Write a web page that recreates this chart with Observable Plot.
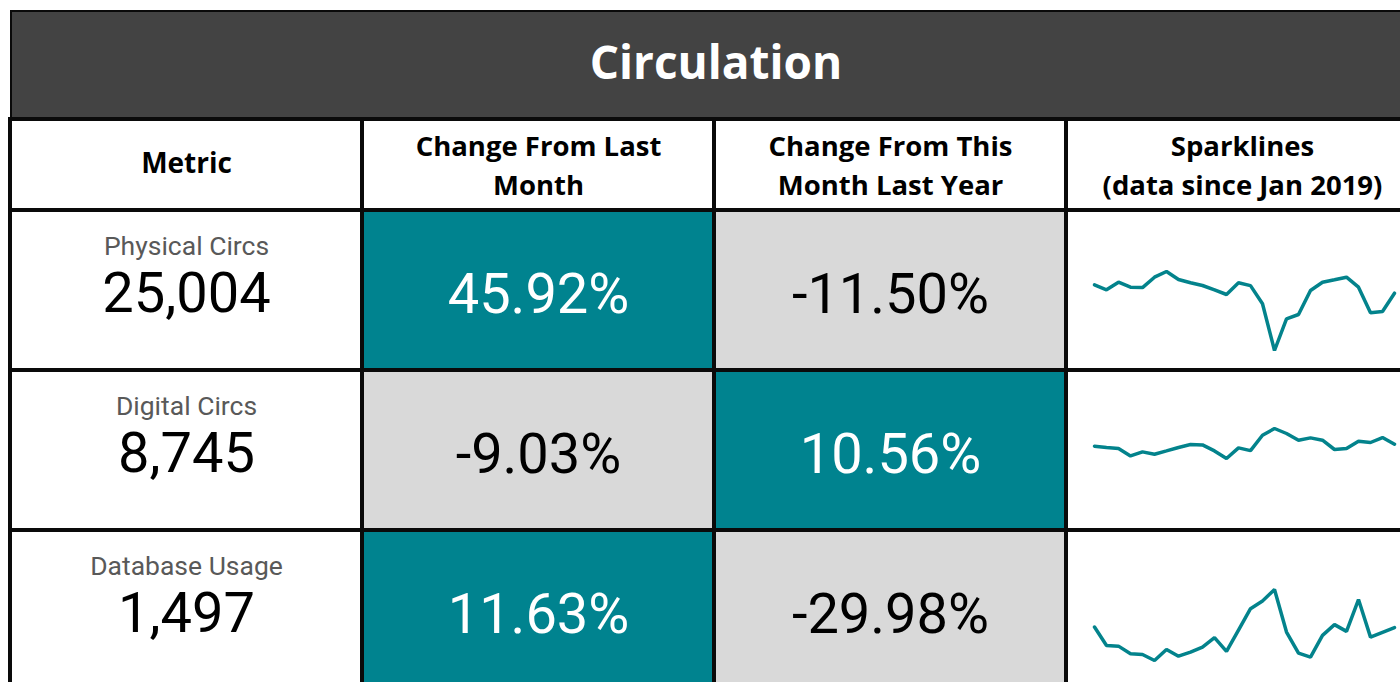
<!DOCTYPE html>
<html>
<head>
<meta charset="utf-8">
<script src="https://cdn.jsdelivr.net/npm/d3@7"></script>
<script src="https://cdn.jsdelivr.net/npm/@observablehq/plot@0.6"></script>
<style>
  html, body { margin: 0; padding: 0; background: #fff; }
  #wrap { position: relative; width: 1400px; height: 682px; overflow: hidden; background: #fff; }
  #wrap > * { position: absolute; left: 0; top: 0; }
  #title {
    left: 10px; top: 10px; width: 1410px; height: 109px; box-sizing: border-box;
    border-top: 2px solid #0a0a0a; border-left: 2px solid #0a0a0a;
    background: #434343; color: #fff;
    font-family: "Open Sans", sans-serif; font-weight: 700; font-size: 46px;
    display: flex; align-items: center; justify-content: center; padding-bottom: 10px;
  }
</style>
</head>
<body>
<div id="wrap"><div id="title"></div></div>
<script>
// ---- data ----
const title = "Circulation";
const columns = ["Metric", "Change From Last\nMonth", "Change From This\nMonth Last Year", "Sparklines\n(data since Jan 2019)"];
const metrics = ["Physical Circs", "Digital Circs", "Database Usage"];
const currentValues = [25004, 8745, 1497];
const changeLastMonth = [45.92, -9.03, 11.63];
const changeLastYear = [-11.50, 10.56, -29.98];
const months = ["Jan 2019","Feb 2019","Mar 2019","Apr 2019","May 2019","Jun 2019","Jul 2019","Aug 2019","Sep 2019","Oct 2019","Nov 2019","Dec 2019",
                "Jan 2020","Feb 2020","Mar 2020","Apr 2020","May 2020","Jun 2020","Jul 2020","Aug 2020","Sep 2020","Oct 2020","Nov 2020","Dec 2020",
                "Jan 2021","Feb 2021"];
const physicalCircs = [28616,26466,29734,27584,27420,31884,34335,30895,29476,28315,26466,24445,29476,28253,20446,365,13996,15845,26165,29734,30766,31884,27584,16576,17135,25004];
const digitalCircs  = [8485,8316,8186,7224,7744,7445,7874,8316,8706,8654,7874,6886,8264,7910,9915,10786,10136,9265,9564,9265,8056,8186,9135,8966,9613,8745];
const databaseUsage = [1517,895,871,613,589,385,759,531,667,837,1157,691,1415,2138,2401,2789,1347,633,497,1235,1599,1371,2449,1177,1341,1497];

// ---- styles ----
const TEAL = "#00838F";
const GREY = "#D9D9D9";
const LINE = "#0a0a0a";
const plotStyle = { background: "transparent", maxWidth: "none", overflow: "visible" };

const wrap = document.getElementById("wrap");
document.getElementById("title").textContent = title;

// ---- header row ----
const header = Plot.plot({
  width: 1420, height: 212,
  marginLeft: 10, marginRight: 2, marginTop: 119, marginBottom: 2,
  x: { type: "band", domain: columns, padding: 0, axis: null },
  y: { type: "band", domain: ["header"], padding: 0, axis: null },
  style: plotStyle,
  marks: [
    Plot.cell(columns, { x: d => d, y: () => "header", fill: "#fff", stroke: LINE, strokeWidth: 4 }),
    Plot.text(columns.filter(c => !c.includes("\n")), {
      x: d => d, y: () => "header", text: d => d, dy: -1,
      fontFamily: "Open Sans", fontWeight: 700, fontSize: 28, fill: "#000"
    }),
    Plot.text(columns.filter(c => c.includes("\n")), {
      x: d => d, y: () => "header", text: d => d, dy: -2, lineHeight: 1.42,
      fontFamily: "Open Sans", fontWeight: 700, fontSize: 27.5, fill: "#000"
    })
  ]
});
wrap.appendChild(header);

// ---- body ----
const bodyCells = metrics.flatMap((m, i) => [
  { metric: m, col: columns[0], kind: "none", value: currentValues[i] },
  { metric: m, col: columns[1], kind: changeLastMonth[i] >= 0 ? "up" : "down", value: changeLastMonth[i] },
  { metric: m, col: columns[2], kind: changeLastYear[i] >= 0 ? "up" : "down", value: changeLastYear[i] },
  { metric: m, col: columns[3], kind: "none", value: null }
]);
const pctCells = bodyCells.filter(d => d.col === columns[1] || d.col === columns[2]);
const metricCells = bodyCells.filter(d => d.col === columns[0]);

const body = Plot.plot({
  width: 1420, height: 692,
  marginLeft: 10, marginRight: 2, marginTop: 210, marginBottom: 2,
  x: { type: "band", domain: columns, padding: 0, axis: null },
  y: { type: "band", domain: metrics, padding: 0, axis: null },
  color: { domain: ["up", "down", "none"], range: [TEAL, GREY, "#FFFFFF"] },
  style: plotStyle,
  marks: [
    Plot.cell(bodyCells, { x: "col", y: "metric", fill: "kind", stroke: LINE, strokeWidth: 4 }),
    Plot.text(metricCells, { x: "col", y: "metric", text: "metric", dy: -44,
      fontFamily: "Roboto", fontSize: 26.5, fill: "#595959" }),
    Plot.text(metricCells, { x: "col", y: "metric", text: d => d3.format(",")(d.value), dy: 4,
      fontFamily: "Roboto", fontSize: 56, fill: "#000" }),
    Plot.text(pctCells.filter(d => d.kind === "up"), { x: "col", y: "metric", text: d => d.value.toFixed(2) + "%", dy: 5,
      fontFamily: "Roboto", fontSize: 56, fill: "#fff" }),
    Plot.text(pctCells.filter(d => d.kind === "down"), { x: "col", y: "metric", text: d => d.value.toFixed(2) + "%", dy: 5,
      fontFamily: "Roboto", fontSize: 56, fill: "#000" })
  ]
});
wrap.appendChild(body);

// ---- sparklines ----
const series = [physicalCircs, digitalCircs, databaseUsage];
const sparkMargins = [[61, 20], [58, 72], [59, 30]];
series.forEach((vals, i) => {
  const data = months.map((m, j) => ({ month: m, value: vals[j] }));
  const sp = Plot.plot({
    width: 352, height: 160,
    marginLeft: 21, marginRight: 21, marginTop: sparkMargins[i][0], marginBottom: sparkMargins[i][1],
    x: { type: "point", domain: months, padding: 0, axis: null },
    y: { axis: null },
    style: plotStyle,
    marks: [Plot.line(data, { x: "month", y: "value", stroke: "#03838C", strokeWidth: 3.5, strokeLinejoin: "miter" })]
  });
  sp.style.left = "1068px";
  sp.style.top = (210 + 160 * i) + "px";
  wrap.appendChild(sp);
});
</script>
</body>
</html>
